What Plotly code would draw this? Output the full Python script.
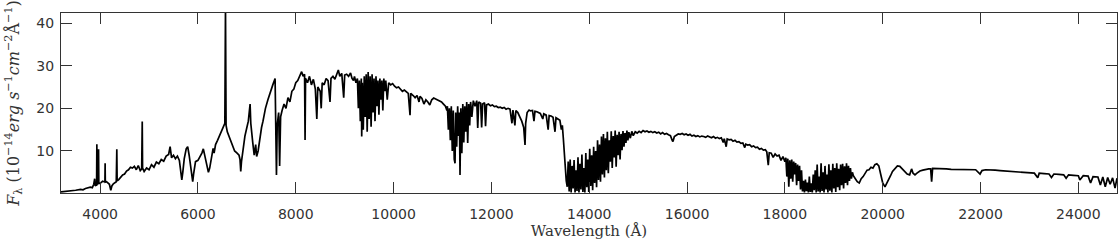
import plotly.graph_objects as go

# spectrum, split by band: [wavelength (A), flux]
blue = [[3200, 0.4], [3300, 0.5], [3400, 0.6], [3500, 0.8], [3600, 1.0], [3650, 0.9],
        [3700, 1.2], [3750, 1.3], [3800, 1.5], [3840, 1.4], [3870, 2.2], [3889, 3.5],
        [3900, 1.8], [3920, 2.0], [3928, 2.0], [3933, 11.6], [3938, 2.2], [3955, 2.3],
        [3968, 10.4], [3973, 2.4], [3990, 2.4], [4020, 2.6], [4050, 2.9], [4080, 2.8],
        [4098, 2.8], [4102, 7.1], [4106, 2.7], [4130, 2.8], [4160, 2.6], [4190, 2.2],
        [4218, 0.8], [4240, 1.8], [4270, 2.3], [4300, 2.6], [4330, 2.8], [4341, 10.4],
        [4348, 3.0], [4380, 3.3], [4420, 3.9], [4460, 4.4], [4500, 4.6], [4540, 5.3],
        [4580, 5.6], [4620, 6.2], [4660, 6.0], [4700, 6.4], [4740, 5.6], [4780, 6.6],
        [4820, 5.4], [4850, 5.8], [4861, 16.9], [4868, 6.0]]

visual = [[4900, 5.2], [4950, 6.0], [5000, 5.6], [5050, 6.8], [5100, 6.2], [5150, 7.4],
          [5200, 7.0], [5250, 8.0], [5300, 7.6], [5350, 8.8], [5400, 9.2], [5431, 11.0],
          [5460, 8.4], [5500, 9.0], [5540, 8.2], [5580, 8.8], [5620, 7.8], [5650, 5.5],
          [5670, 3.2], [5690, 5.0], [5720, 8.2], [5760, 10.5], [5790, 11.0], [5820, 9.0],
          [5850, 6.5], [5880, 3.5], [5893, 2.8], [5910, 4.5], [5950, 7.5], [6000, 7.8],
          [6040, 8.6], [6080, 9.5], [6110, 10.5], [6140, 9.0], [6170, 7.0], [6200, 5.5],
          [6214, 5.0], [6240, 6.0], [6280, 8.5], [6310, 10.6], [6330, 9.5], [6360, 11.5],
          [6400, 12.5], [6440, 13.5], [6480, 14.5], [6520, 15.5], [6550, 16.5], [6563, 44.0],
          [6575, 16.0], [6600, 14.5], [6650, 13.0], [6700, 11.5], [6750, 10.0], [6800, 9.5],
          [6840, 9.0], [6860, 8.0], [6875, 5.2], [6890, 7.5], [6920, 10.5], [6960, 13.5],
          [7000, 15.5], [7030, 17.0], [7066, 21.0], [7080, 16.5], [7120, 12.0], [7150, 9.0],
          [7180, 11.5], [7200, 8.7], [7230, 10.0], [7260, 13.0], [7300, 15.5], [7330, 17.0]]

red = [[7380, 20.0], [7430, 22.0], [7480, 24.0], [7530, 25.5], [7577, 27.0], [7595, 12.0],
       [7605, 4.4], [7620, 16.0], [7650, 19.0], [7670, 6.5], [7690, 18.0], [7720, 19.5],
       [7760, 21.0], [7800, 20.0], [7840, 22.5], [7880, 21.5], [7920, 24.0], [7960, 24.5],
       [8000, 26.0], [8040, 26.5], [8080, 27.8], [8120, 28.6], [8150, 27.5], [8180, 28.0],
       [8190, 12.6], [8200, 27.0], [8240, 26.0], [8280, 27.5], [8320, 25.5], [8360, 26.8],
       [8400, 24.5], [8430, 17.5], [8450, 25.0], [8500, 24.0], [8520, 20.0], [8540, 26.0],
       [8580, 25.5], [8620, 27.0], [8660, 26.5], [8700, 21.5], [8720, 27.0], [8760, 27.5],
       [8800, 26.8], [8840, 28.0], [8870, 29.0], [8900, 27.5], [8940, 28.2], [8980, 22.5],
       [9000, 27.8], [9040, 28.0], [9080, 27.5], [9120, 28.3], [9150, 27.0], [9180, 26.5],
       [9200, 27.5], [9230, 26.0]]

zband = [[9260, 27.0], [9280, 20.0], [9300, 26.5], [9320, 17.0], [9340, 27.0], [9348, 13.4],
         [9360, 26.0], [9380, 15.0], [9400, 27.5], [9420, 18.0], [9440, 28.0], [9460, 14.5],
         [9480, 28.5], [9500, 17.5], [9520, 27.5], [9540, 15.7], [9560, 28.0], [9580, 19.0],
         [9600, 27.0], [9620, 17.0], [9640, 27.5], [9660, 20.5], [9680, 26.5], [9700, 18.5],
         [9720, 27.0], [9740, 22.0], [9760, 26.5], [9780, 19.5], [9800, 27.0], [9820, 24.0],
         [9840, 26.5], [9870, 22.0], [9900, 26.0], [9940, 25.5], [9980, 25.8], [10020, 25.2],
         [10060, 24.8], [10100, 25.0], [10140, 24.5], [10180, 24.0], [10220, 24.3],
         [10260, 23.8], [10300, 23.5], [10336, 18.4], [10350, 23.5], [10400, 23.0],
         [10440, 22.5], [10480, 23.0], [10520, 21.5], [10540, 22.8], [10580, 22.3],
         [10620, 21.0], [10660, 22.0], [10700, 21.5], [10740, 20.8], [10780, 22.0],
         [10820, 22.4], [10860, 22.2], [10900, 22.0], [10940, 21.8], [10980, 21.5],
         [11020, 21.0], [11060, 20.5], [11090, 19.5]]

jband = [[11100, 20.5], [11120, 15.0], [11140, 20.0], [11160, 12.5], [11180, 20.5],
         [11200, 10.0], [11220, 19.5], [11240, 8.0], [11256, 7.1], [11270, 19.0],
         [11290, 11.0], [11310, 20.5], [11330, 13.5], [11345, 19.0], [11358, 4.4],
         [11375, 20.0], [11395, 9.5], [11415, 21.0], [11435, 12.0], [11455, 20.5],
         [11475, 14.5], [11495, 21.5], [11515, 11.9], [11535, 21.0], [11555, 16.0],
         [11575, 21.5], [11600, 18.0], [11630, 21.8], [11665, 20.5], [11700, 21.8],
         [11720, 15.4], [11740, 21.5], [11780, 21.2], [11800, 15.5], [11820, 21.0],
         [11860, 21.3], [11880, 15.8], [11900, 20.8], [11940, 21.0], [11980, 20.6],
         [12020, 20.8], [12060, 20.4], [12100, 20.5], [12140, 20.2], [12180, 20.3],
         [12220, 20.0], [12260, 20.2], [12300, 19.8], [12340, 20.0], [12380, 19.8],
         [12420, 16.5], [12440, 19.6], [12480, 16.0], [12500, 19.5], [12540, 19.0],
         [12580, 18.0], [12620, 17.0], [12660, 15.5], [12687, 11.4], [12700, 16.5],
         [12730, 19.0], [12770, 19.6], [12800, 19.4], [12840, 19.5], [12870, 17.0],
         [12890, 19.3], [12930, 19.2], [13000, 18.8], [13050, 17.5], [13070, 18.7],
         [13120, 18.4], [13160, 15.0], [13180, 18.3], [13220, 18.2], [13260, 17.9],
         [13300, 14.5], [13320, 17.8], [13360, 17.5], [13400, 17.2], [13430, 15.0],
         [13450, 16.0], [13470, 13.0], [13490, 9.0], [13510, 6.0], [13530, 3.0], [13550, 1.6]]

hband = [[13570, 7.5], [13590, 0.5], [13610, 8.0], [13630, 0.3], [13650, 6.5], [13670, 1.2],
         [13690, 7.9], [13710, 0.3], [13730, 5.5], [13750, 0.6], [13770, 8.5], [13790, 0.3],
         [13810, 7.0], [13830, 1.0], [13850, 9.2], [13870, 0.4], [13890, 6.0], [13910, 0.3],
         [13930, 9.5], [13950, 1.5], [13970, 8.0], [13990, 0.4], [14010, 10.5], [14030, 1.8],
         [14050, 9.0], [14070, 0.8], [14090, 11.0], [14110, 2.5], [14130, 10.0], [14150, 1.5],
         [14170, 12.5], [14190, 3.2], [14210, 11.5], [14230, 2.8], [14250, 13.4], [14270, 4.5],
         [14290, 14.0], [14310, 3.8], [14330, 13.0], [14350, 5.5], [14370, 14.5], [14390, 4.8],
         [14410, 12.5], [14430, 7.5], [14450, 14.6], [14470, 6.0], [14490, 13.5], [14510, 8.5],
         [14530, 14.8], [14550, 6.3], [14570, 13.8], [14590, 9.0], [14610, 14.5], [14630, 8.0],
         [14650, 14.0], [14670, 10.2], [14690, 14.7], [14710, 11.0], [14730, 14.2],
         [14750, 11.9], [14770, 14.8], [14790, 12.5], [14810, 14.4], [14840, 13.0],
         [14870, 14.6], [14900, 13.6], [14940, 14.5], [14980, 14.2], [15020, 14.6],
         [15060, 14.3], [15100, 14.8], [15140, 14.5], [15180, 14.7], [15220, 14.4],
         [15260, 14.6], [15300, 14.3], [15340, 14.5], [15380, 14.2], [15420, 14.4],
         [15460, 14.0], [15500, 14.3], [15540, 13.9], [15580, 14.1], [15620, 13.8],
         [15660, 13.6], [15700, 12.4], [15712, 12.2], [15740, 13.4], [15780, 13.8],
         [15820, 14.0], [15860, 13.9], [15900, 14.1], [15940, 13.8], [15980, 14.0],
         [16020, 13.7], [16060, 13.9], [16100, 13.5], [16140, 13.7], [16180, 13.4],
         [16220, 13.6], [16260, 13.3], [16300, 13.5], [16340, 13.4], [16380, 13.2],
         [16420, 13.5], [16460, 13.3], [16500, 13.1], [16540, 13.4], [16580, 13.0],
         [16620, 13.2], [16660, 12.9], [16700, 13.1], [16740, 12.0], [16760, 12.9],
         [16800, 11.0], [16820, 12.8], [16860, 12.6], [16900, 12.7], [16940, 12.3],
         [16980, 12.5], [17020, 12.1], [17060, 12.2], [17100, 11.8], [17140, 11.9],
         [17180, 10.8], [17200, 11.6], [17240, 11.4], [17280, 11.5], [17320, 11.0],
         [17360, 11.2], [17400, 10.8], [17440, 10.9], [17480, 10.4], [17520, 10.6],
         [17560, 10.2], [17600, 10.3], [17630, 9.8], [17660, 6.7], [17680, 9.6],
         [17720, 9.5], [17760, 8.5], [17800, 9.3], [17840, 8.8], [17880, 9.0],
         [17920, 7.8], [17960, 8.7], [18000, 7.5], [18020, 8.4]]

kband = [[18040, 4.0], [18060, 8.2], [18080, 1.6], [18100, 7.8], [18120, 3.5], [18140, 8.0],
         [18160, 2.8], [18180, 7.5], [18200, 4.5], [18220, 7.2], [18240, 2.0], [18260, 6.8],
         [18280, 3.0], [18300, 6.5], [18320, 1.0], [18340, 5.5], [18360, 0.5], [18380, 3.0],
         [18400, 0.3], [18420, 3.3], [18440, 0.6], [18460, 2.6], [18480, 0.3], [18500, 4.0],
         [18520, 0.4], [18540, 2.4], [18560, 0.3], [18580, 4.5], [18600, 0.8], [18620, 5.5],
         [18640, 0.3], [18660, 6.8], [18680, 0.5], [18700, 4.0], [18720, 0.3], [18740, 7.1],
         [18760, 0.6], [18780, 5.0], [18800, 0.3], [18820, 6.5], [18840, 1.0], [18860, 4.5],
         [18880, 0.3], [18900, 6.9], [18920, 0.7], [18940, 5.5], [18960, 0.3], [18980, 7.0],
         [19000, 1.2], [19020, 6.0], [19040, 0.4], [19060, 7.1], [19080, 1.5], [19100, 5.8],
         [19120, 0.8], [19140, 6.8], [19160, 2.0], [19180, 7.0], [19200, 1.2], [19220, 6.4],
         [19240, 2.5], [19260, 7.1], [19280, 2.0], [19300, 6.5], [19320, 3.0], [19340, 6.0],
         [19360, 3.5], [19380, 5.0], [19400, 4.2], [19440, 3.5], [19480, 2.8], [19520, 2.5],
         [19560, 3.5], [19600, 4.0], [19640, 4.8], [19680, 5.5], [19720, 5.6], [19760, 6.2],
         [19800, 6.0], [19840, 6.8], [19880, 7.0], [19920, 6.5], [19960, 4.5], [20000, 2.5],
         [20046, 1.6], [20080, 2.5], [20120, 3.5], [20160, 4.2], [20200, 5.2], [20250, 6.0],
         [20300, 6.5], [20350, 6.4], [20400, 5.8], [20450, 5.0], [20500, 4.6], [20550, 4.4],
         [20590, 5.8], [20620, 4.8], [20660, 4.4], [20700, 4.8], [20760, 5.3], [20820, 5.5],
         [20880, 5.7], [20940, 5.8], [20980, 5.8], [21000, 2.8], [21020, 5.9], [21100, 5.9],
         [21200, 5.8], [21300, 5.8], [21400, 5.7], [21500, 5.7], [21600, 5.6], [21700, 5.7],
         [21800, 5.6], [21900, 5.6], [21990, 4.6], [22030, 5.4], [22100, 5.6], [22200, 5.6],
         [22300, 5.5], [22400, 5.4], [22500, 5.3], [22600, 5.2], [22700, 5.2], [22800, 5.0],
         [22900, 5.0], [23000, 4.9], [23100, 4.8], [23170, 3.7], [23200, 4.8], [23300, 4.7],
         [23400, 4.6], [23450, 3.8], [23500, 4.6], [23600, 4.5], [23700, 4.4], [23750, 3.6],
         [23800, 4.4], [23900, 4.3], [24000, 4.2], [24030, 3.2], [24100, 4.2], [24200, 4.1],
         [24250, 2.5], [24300, 4.0], [24400, 3.9], [24450, 2.0], [24500, 3.9], [24550, 1.6],
         [24600, 3.8], [24650, 2.2], [24700, 3.7], [24750, 1.3], [24790, 3.6]]

x_ticks = [4000, 6000, 8000, 10000, 12000, 14000, 16000, 18000, 20000, 22000, 24000]
y_ticks = [10, 20, 30, 40]

spectrum = blue + visual + red + zband + jband + hband + kband
wave = [p[0] for p in spectrum]
flux = [p[1] for p in spectrum]

fig = go.Figure()
fig.add_trace(go.Scatter(x=wave, y=flux, mode="lines",
                         line=dict(color="black", width=1.7), showlegend=False))

axis_style = dict(showline=True, linecolor="#333", linewidth=1.3, mirror="allticks",
                  ticks="inside", ticklen=11, tickwidth=1.2, tickcolor="#333",
                  showgrid=False, zeroline=False, automargin=False,
                  tickfont=dict(family="DejaVu Sans", size=14, color="#333"))

fig.update_layout(
    width=1120, height=243,
    margin=dict(l=61, r=3, t=13, b=50),
    plot_bgcolor="white", paper_bgcolor="white",
    xaxis=dict(range=[3200, 24790], tickvals=x_ticks, tickformat="d",
               ticklabelstandoff=8,
               title=dict(text="Wavelength (Å)", standoff=4,
                          font=dict(family="DejaVu Serif", size=15, color="#333")),
               **axis_style),
    yaxis=dict(range=[0.15, 42.35], tickvals=y_ticks, ticklabelstandoff=3,
               title=dict(text="<i>F</i><sub>λ</sub> (10<sup>−14</sup><i>erg s</i><sup>−1</sup>"
                               "<i>cm</i><sup>−2</sup>Å<sup>−1</sup>)",
                          standoff=12,
                          font=dict(family="DejaVu Serif", size=16, color="#333")),
               **axis_style),
)

# drop the page's default body margin so the figure sits at the window corner
fig.write_html("out.html", config={"displayModeBar": False},
               post_script="document.body.style.margin='0';document.body.style.overflow='hidden';")
